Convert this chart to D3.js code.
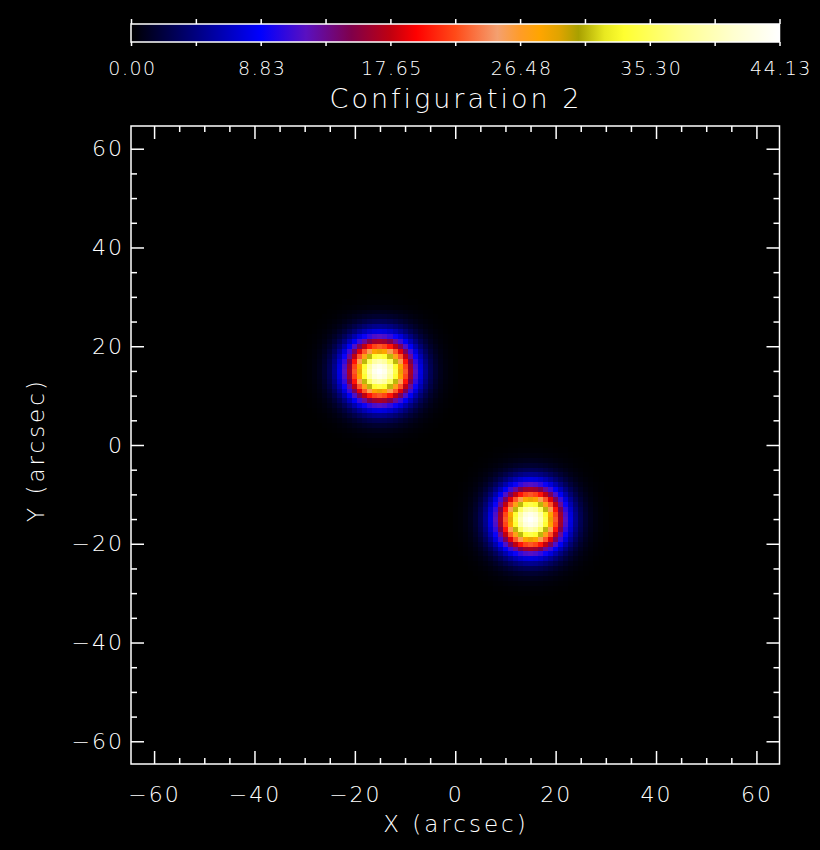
<!DOCTYPE html>
<html>
<head>
<meta charset="utf-8">
<script src="https://cdn.jsdelivr.net/npm/d3@7"></script>
<style>
  html, body { margin: 0; padding: 0; background: #000; }
  svg { display: block; }
  text { font-family: "DejaVu Sans", sans-serif; font-weight: 200; fill: #fff; }
</style>
</head>
<body>
<svg id="chart" width="820" height="850"></svg>
<script>
// ---- data ----
const title = "Configuration 2";
const xLabel = "X (arcsec)";
const yLabel = "Y (arcsec)";
// Gaussian sources in the model image (arcsec)
const sourceX = [-15, 15];
const sourceY = [15, -15];
const sourcePeak = [44.13, 44.13];
const sourceSigma = [4.3, 4.3];
// image grid: 1 arcsec pixels
const gridMin = -64, gridMax = 64, gridStep = 1;
const axisDomain = [-64.6, 64.6];
const majorTicks = [-60, -40, -20, 0, 20, 40, 60];
const minorStep = 5;
// colour bar
const cbarMax = 44.13;
const cbarTickValues = [0, 8.826, 17.652, 26.478, 35.304, 44.13];
const cbarTickLabels = ["0.00", "8.83", "17.65", "26.48", "35.30", "44.13"];
const cmapStops = [0.00, 0.20, 0.27, 0.34, 0.40, 0.44, 0.50, 0.565, 0.60, 0.63, 0.66, 0.69, 0.73, 0.76, 0.85, 0.93, 1.00];
const cmapColors = ["#000000", "#0000ff", "#5a10c0", "#80004a", "#c00010", "#ff0000", "#ff4a18", "#f4a070",
                    "#ff9c28", "#ffa500", "#e0a400", "#a8a000", "#e8e820", "#ffff30", "#ffff90", "#ffffd0", "#ffffff"];

// ---- layout ----
const svg = d3.select("#chart");
const L = 131, R = 779.5, T = 126, B = 764;
const x = d3.scaleLinear().domain(axisDomain).range([L, R]);
const y = d3.scaleLinear().domain(axisDomain).range([B, T]);
const color = d3.scaleLinear().domain(cmapStops.map(s => s * cbarMax)).range(cmapColors).clamp(true);

// ---- image cells ----
const cells = [];
for (let gx = gridMin; gx <= gridMax; gx += gridStep) {
  for (let gy = gridMin; gy <= gridMax; gy += gridStep) {
    let v = 0;
    for (let i = 0; i < sourceX.length; i++) {
      const r2 = (gx - sourceX[i]) ** 2 + (gy - sourceY[i]) ** 2;
      v += sourcePeak[i] * Math.exp(-r2 / (2 * sourceSigma[i] ** 2));
    }
    if (v > 0.05) cells.push({ gx, gy, v });
  }
}
svg.append("g").selectAll("rect").data(cells).join("rect")
  .attr("x", d => x(d.gx - gridStep / 2))
  .attr("y", d => y(d.gy + gridStep / 2))
  .attr("width", d => x(d.gx + gridStep / 2) - x(d.gx - gridStep / 2) + 0.3)
  .attr("height", d => y(d.gy - gridStep / 2) - y(d.gy + gridStep / 2) + 0.3)
  .attr("fill", d => color(d.v))
  .attr("shape-rendering", "crispEdges");

// ---- axes ----
const minorTicks = d3.range(-60, 61, minorStep).filter(v => !majorTicks.includes(v));
function styleAxis(g) {
  g.select(".domain").remove();
  g.selectAll("line").attr("stroke", "#fff").attr("stroke-width", 1.5);
  g.selectAll("text").attr("fill", "#fff").attr("font-size", 22)
    .attr("letter-spacing", 2)
    .style("font-family", '"DejaVu Sans", sans-serif').style("font-weight", 200);
}
// bottom
svg.append("g").attr("transform", `translate(0,${B})`)
  .call(d3.axisBottom(x).tickValues(majorTicks).tickSize(-13).tickPadding(22).tickFormat(d3.format("d")))
  .call(styleAxis);
svg.append("g").attr("transform", `translate(0,${B})`)
  .call(d3.axisBottom(x).tickValues(minorTicks).tickSize(-6).tickFormat(""))
  .call(styleAxis);
// top
svg.append("g").attr("transform", `translate(0,${T})`)
  .call(d3.axisTop(x).tickValues(majorTicks).tickSize(-13).tickFormat(""))
  .call(styleAxis);
svg.append("g").attr("transform", `translate(0,${T})`)
  .call(d3.axisTop(x).tickValues(minorTicks).tickSize(-6).tickFormat(""))
  .call(styleAxis);
// left
svg.append("g").attr("transform", `translate(${L},0)`)
  .call(d3.axisLeft(y).tickValues(majorTicks).tickSize(-13).tickPadding(7).tickFormat(d3.format("d")))
  .call(styleAxis);
svg.append("g").attr("transform", `translate(${L},0)`)
  .call(d3.axisLeft(y).tickValues(minorTicks).tickSize(-6).tickFormat(""))
  .call(styleAxis);
// right
svg.append("g").attr("transform", `translate(${R},0)`)
  .call(d3.axisRight(y).tickValues(majorTicks).tickSize(-13).tickFormat(""))
  .call(styleAxis);
svg.append("g").attr("transform", `translate(${R},0)`)
  .call(d3.axisRight(y).tickValues(minorTicks).tickSize(-6).tickFormat(""))
  .call(styleAxis);
// frame
svg.append("rect").attr("x", L).attr("y", T).attr("width", R - L).attr("height", B - T)
  .attr("fill", "none").attr("stroke", "#fff").attr("stroke-width", 1.5);

// axis titles
svg.append("text").attr("x", 456).attr("y", 832).attr("text-anchor", "middle")
  .attr("font-size", 23).attr("letter-spacing", 3).text(xLabel);
svg.append("text").attr("transform", "translate(44,450) rotate(-90)").attr("text-anchor", "middle")
  .attr("font-size", 23).attr("letter-spacing", 3).text(yLabel);
// title
svg.append("text").attr("x", 456).attr("y", 108).attr("text-anchor", "middle")
  .attr("font-size", 27).attr("letter-spacing", 3).text(title);

// ---- colour bar ----
const cbT = 24, cbB = 42;
const cx = d3.scaleLinear().domain([0, cbarMax]).range([L, R]);
const grad = svg.append("defs").append("linearGradient").attr("id", "cbar")
  .attr("x1", "0%").attr("x2", "100%").attr("y1", "0%").attr("y2", "0%");
grad.selectAll("stop").data(cmapStops).join("stop")
  .attr("offset", (d) => (d * 100) + "%")
  .attr("stop-color", (d, i) => cmapColors[i]);
svg.append("rect").attr("x", L).attr("y", cbT).attr("width", R - L).attr("height", cbB - cbT)
  .attr("fill", "url(#cbar)");
svg.append("rect").attr("x", L).attr("y", cbT).attr("width", R - L).attr("height", cbB - cbT)
  .attr("fill", "none").attr("stroke", "#fff").attr("stroke-width", 1.5);
const cbMinor = d3.range(0, 11).map(i => i * cbarMax / 10);
svg.append("g").attr("transform", `translate(0,${cbT})`)
  .call(d3.axisTop(cx).tickValues(cbMinor).tickSize(5).tickFormat(""))
  .call(styleAxis);
const cbBot = svg.append("g").attr("transform", `translate(0,${cbB})`)
  .call(d3.axisBottom(cx).tickValues(cbarTickValues).tickSize(0).tickPadding(20)
    .tickFormat((d, i) => cbarTickLabels[i]));
cbBot.call(styleAxis);
cbBot.selectAll("text").attr("font-size", 19).attr("letter-spacing", 1.5).attr("dx", 1);
svg.append("g").attr("transform", `translate(0,${cbB})`)
  .call(d3.axisBottom(cx).tickValues(cbMinor).tickSize(4).tickFormat(""))
  .call(styleAxis);
</script>
</body>
</html>
